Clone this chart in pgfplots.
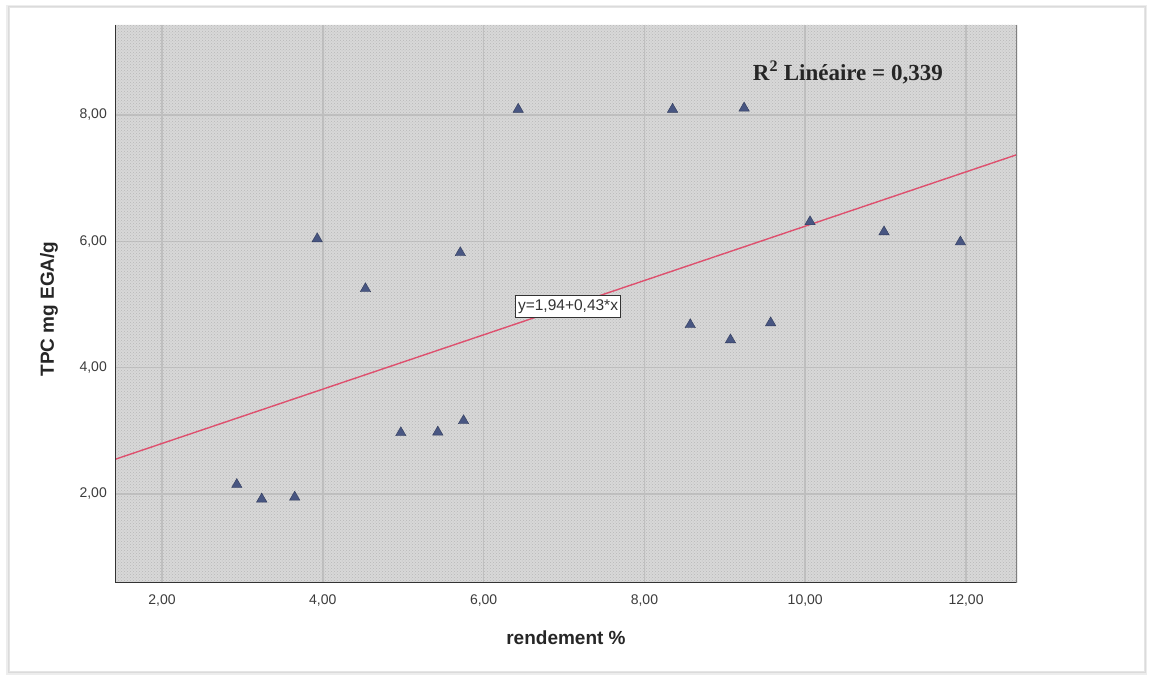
\documentclass[border=0pt]{standalone}
\usepackage{fontspec}
\setmainfont{Liberation Sans}
\newfontfamily\serifr{Liberation Serif}
\usepackage{pgfplots}
\pgfplotsset{compat=1.18}
\usetikzlibrary{patterns}

\definecolor{markblue}{RGB}{72,86,130}
\definecolor{fitred}{RGB}{222,80,110}
\definecolor{tickgray}{RGB}{60,60,60}
\definecolor{bggray}{RGB}{216,216,216}
\definecolor{gridgray}{RGB}{192,192,192}

\begin{document}
\begin{tikzpicture}[x=1pt,y=1pt]
  % page and framed panel with a soft shadow
  \useasboundingbox (0,0) rectangle (1149,675);
  \fill[white] (0,0) rectangle (1149,675);
  \fill[black!7] (6,0.5) rectangle (1147,670);
  \fill[black!14] (7.5,2) rectangle (1146,669);
  \fill[white] (9,4) rectangle (1144,668);
  \draw[black!10, line width=0.5pt] (9,4) rectangle (1144,668);

  \begin{axis}[
    at={(115pt,92pt)}, anchor=south west,
    scale only axis, width=902pt, height=558pt,
    xmin=1.415, xmax=12.634, ymin=0.591, ymax=9.425,
    xtick={2,4,...,12}, ytick={2,4,6,8},
    axis background/.style={fill=bggray},
    grid=major,
    major grid style={gridgray, line width=1.6pt},
    axis line style={draw=none},
    tick style={draw=none},
    tick label style={font=\fontsize{14}{16}\selectfont, text=tickgray, inner sep=0pt},
    /pgf/number format/.cd, fixed, fixed zerofill, precision=2, use comma, assume math mode=true,
    /pgfplots/.cd,
    xticklabel style={anchor=center, yshift=-18pt},
    yticklabel style={anchor=east, xshift=-8pt},
    xlabel={\bfseries rendement \%},
    ylabel={\bfseries TPC mg EGA/g},
    label style={font=\fontsize{19}{21}\selectfont, text=black!85},
    xlabel style={at={(axis description cs:0.5,-0.0986)}, anchor=center},
    ylabel style={at={(axis description cs:-0.0732,0.491)}, anchor=center, rotate=0},
    clip=true,
  ]
    % fine stipple over the background
    \fill[pattern=crosshatch dots, pattern color=black!28] (rel axis cs:0,0) rectangle (rel axis cs:1,1);

    % linear fit y = 1.94 + 0.43x
    \addplot[fitred, line width=1.4pt] coordinates {(1.415,2.5485) (12.634,7.3726)};

    \addplot[only marks, mark=triangle*, mark size=6pt,
      mark options={fill=markblue, draw=markblue!70!black, line width=0.4pt}]
      coordinates {
        (2.93,2.15) (3.24,1.92) (3.65,1.95) (3.93,6.04) (4.53,5.25)
        (4.97,2.97) (5.43,2.98) (5.71,5.82) (5.75,3.16) (6.43,8.09)
        (8.35,8.09) (8.57,4.68) (9.07,4.44) (9.24,8.11) (9.57,4.71)
        (10.06,6.31) (10.98,6.15) (11.93,5.99)
      };

    \node[draw=black!80, fill=white, line width=0.8pt, inner xsep=2.5pt, inner ysep=4pt,
      font=\fontsize{15.5}{17}\selectfont, text=black!80]
      at (axis cs:7.05,4.97) {y=1,94+0,43*x};

    \node[font=\serifr\fontsize{23}{25}\selectfont\bfseries, text=black!85]
      at (axis cs:10.53,8.68) {R\textsuperscript{2} Linéaire = 0,339};

    % frame: dark left and bottom edges, lighter right edge
    \draw[black!80, line width=1.5pt] (rel axis cs:0,1) -- (rel axis cs:0,0) -- (rel axis cs:1,0);
    \draw[black!50, line width=1.4pt] (rel axis cs:1,0) -- (rel axis cs:1,1);
  \end{axis}
\end{tikzpicture}
\end{document}
